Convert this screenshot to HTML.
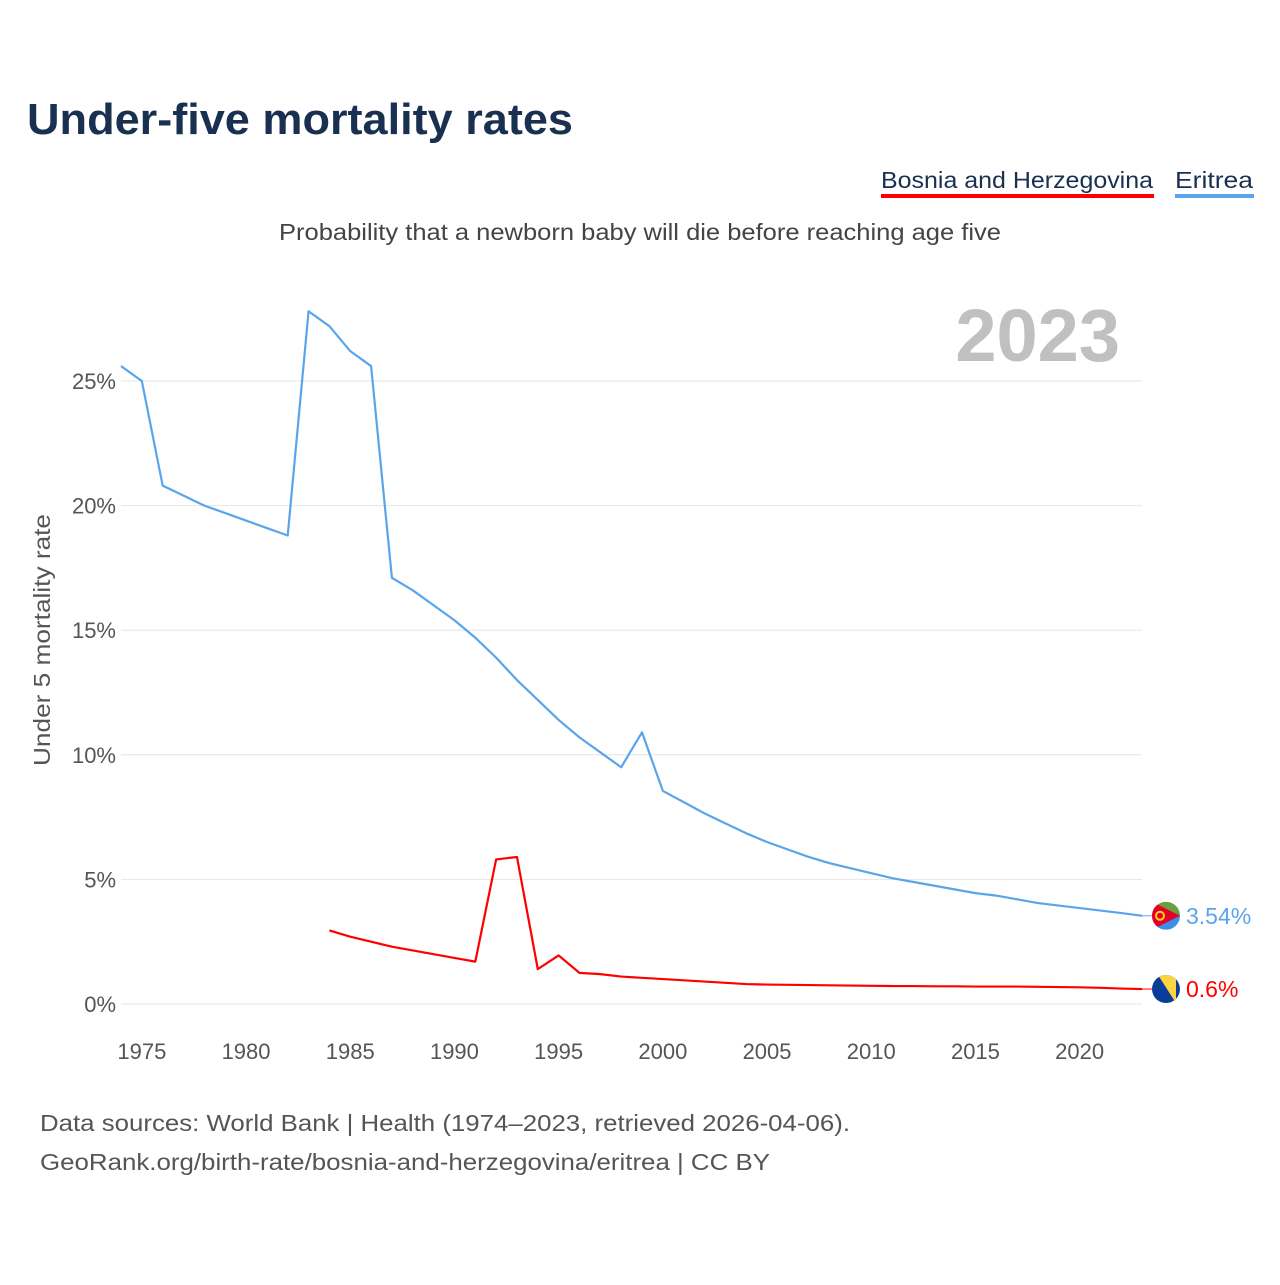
<!DOCTYPE html>
<html><head><meta charset="utf-8"><style>
body{margin:0;background:#fff;font-family:"Liberation Sans",sans-serif;}
</style></head><body>
<svg width="1280" height="1280" xmlns="http://www.w3.org/2000/svg" font-family="Liberation Sans, sans-serif">
<text x="27" y="134" font-size="44" font-weight="bold" fill="#1a3050" textLength="546" lengthAdjust="spacingAndGlyphs">Under-five mortality rates</text>
<g><text x="881" y="188" font-size="23" fill="#1a3050" textLength="272" lengthAdjust="spacingAndGlyphs">Bosnia and Herzegovina</text><rect x="881" y="194" width="273" height="4" fill="#f00"/></g>
<g><text x="1175" y="188" font-size="23" fill="#1a3050" textLength="78" lengthAdjust="spacingAndGlyphs">Eritrea</text><rect x="1175" y="194" width="79" height="4" fill="#5aa5ea"/></g>
<text x="279" y="240" font-size="23" fill="#444" textLength="722" lengthAdjust="spacingAndGlyphs">Probability that a newborn baby will die before reaching age five</text>
<text x="1120" y="361" font-size="74" font-weight="bold" fill="#c0c0c0" text-anchor="end">2023</text>
<text transform="translate(50,640) rotate(-90)" font-size="23" fill="#555" text-anchor="middle" textLength="252" lengthAdjust="spacingAndGlyphs">Under 5 mortality rate</text>
<g id="grid"></g><g id="xt"></g><g id="lines"></g>
<text x="40" y="1131" font-size="23" fill="#555" textLength="810" lengthAdjust="spacingAndGlyphs">Data sources: World Bank | Health (1974–2023, retrieved 2026-04-06).</text>
<text x="40" y="1170" font-size="23" fill="#555" textLength="730" lengthAdjust="spacingAndGlyphs">GeoRank.org/birth-rate/bosnia-and-herzegovina/eritrea | CC BY</text>
</svg>
<script>
const years=[];for(let y=1974;y<=2023;y++)years.push(y);
const eritrea=[25.6,25.0,20.8,20.4,20.0,19.7,19.4,19.1,18.8,27.8,27.2,26.2,25.6,17.1,16.6,16.0,15.4,14.7,13.9,13.0,12.2,11.4,10.7,10.1,9.5,10.9,8.55,8.1,7.65,7.25,6.85,6.5,6.2,5.9,5.65,5.45,5.25,5.05,4.9,4.75,4.6,4.45,4.35,4.2,4.05,3.95,3.85,3.75,3.65,3.54];
const bosniaYears=[];for(let y=1984;y<=2023;y++)bosniaYears.push(y);
const bosnia=[2.95,2.7,2.5,2.3,2.15,2.0,1.85,1.7,5.8,5.9,1.4,1.95,1.25,1.2,1.1,1.05,1.0,0.95,0.9,0.85,0.8,0.78,0.77,0.76,0.75,0.74,0.73,0.72,0.72,0.71,0.71,0.7,0.7,0.7,0.69,0.68,0.67,0.65,0.62,0.6];
const yTicks=[0,5,10,15,20,25];
const xTicks=[1975,1980,1985,1990,1995,2000,2005,2010,2015,2020];
const X=y=>121+(y-1974)*20.84, Y=v=>1004-v*24.92;
const NS='http://www.w3.org/2000/svg';
function mk(t,a,p){const e=document.createElementNS(NS,t);for(const k in a)e.setAttribute(k,a[k]);p.appendChild(e);return e;}
const g=document.getElementById('grid');
yTicks.forEach(v=>{const l=mk('line',{x1:121,x2:1142,y1:Y(v),y2:Y(v),stroke:'#e6e6e6'},g);


const t=mk('text',{x:116,y:Y(v)+8,'font-size':22,fill:'#555','text-anchor':'end'},g);t.textContent=v+'%';

});
const xt=document.getElementById('xt');
xTicks.forEach(v=>{const t=mk('text',{x:X(v),y:1059,'font-size':22,fill:'#555','text-anchor':'middle'},xt);t.textContent=v;

});
const L=document.getElementById('lines');
function line(xs,vs,c,name){const p=mk('polyline',{points:xs.map((y,i)=>X(y)+','+Y(vs[i])).join(' '),fill:'none',stroke:c,'stroke-width':2.2,'stroke-linejoin':'round'},L);

}
line(years,eritrea,'#5aa5ea','line-eritrea');
line(bosniaYears,bosnia,'#f00','line-bosnia');
function end(v,c,name,lbl,flag){const y=Y(v);const gg=mk('g',{},L);


mk('line',{x1:1142,x2:1152,y1:y,y2:y,stroke:c},gg);
gg.innerHTML+=flag(1166,y);
const t=mk('text',{x:1186,y:y+8,'font-size':23,fill:c},gg);t.textContent=lbl;}
end(eritrea[eritrea.length-1],'#5aa5ea','end-label-eritrea','3.54%',(x,y)=>`<clipPath id="c1"><circle cx="${x}" cy="${y}" r="14"/></clipPath><g clip-path="url(#c1)"><rect x="${x-14}" y="${y-14}" width="28" height="14" fill="#6a9e3f"/><rect x="${x-14}" y="${y}" width="28" height="14" fill="#3d8ee8"/><polygon points="${x-14},${y-14} ${x+14},${y} ${x-14},${y+14}" fill="#e4002b"/><circle cx="${x-6}" cy="${y}" r="4" fill="none" stroke="#fcd116" stroke-width="2"/></g>`);
end(bosnia[bosnia.length-1],'#f00','end-label-bosnia','0.6%',(x,y)=>`<clipPath id="c2"><circle cx="${x}" cy="${y}" r="14"/></clipPath><g clip-path="url(#c2)"><rect x="${x-14}" y="${y-14}" width="28" height="28" fill="#0a3d99"/><polygon points="${x-8},${y-14} ${x+10},${y-14} ${x+10},${y+14}" fill="#fcd440"/></g>`);
</script>
</body></html>
